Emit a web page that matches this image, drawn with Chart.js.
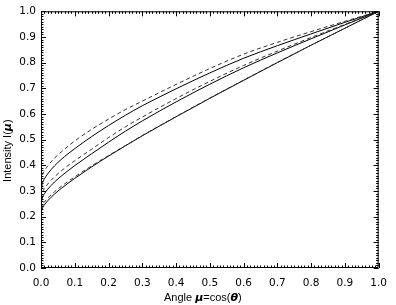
<!DOCTYPE html>
<html>
<head>
<meta charset="utf-8">
<script src="https://cdn.jsdelivr.net/npm/chart.js@4"></script>
<style>
  html, body { margin: 0; padding: 0; background: #fff; }
  #wrap { width: 396px; height: 305px; }
</style>
</head>
<body>
<div id="wrap"><canvas id="ldChart" width="396" height="305"></canvas></div>
<script>
// angle mu = cos(theta), sampled along the x axis
const mu = [0, 0.005, 0.01, 0.02, 0.04, 0.06, 0.08, 0.1, 0.15, 0.2, 0.25, 0.3, 0.4, 0.5, 0.6, 0.7, 0.8, 0.9, 1.0];

// intensity curves (top to bottom)
const dashTop   = [0.335, 0.365, 0.378, 0.398, 0.428, 0.452, 0.474, 0.495, 0.540, 0.580, 0.617, 0.650, 0.715, 0.777, 0.833, 0.879, 0.921, 0.961, 1.0];
const solidTop  = [0.300, 0.333, 0.347, 0.367, 0.398, 0.423, 0.445, 0.465, 0.512, 0.555, 0.595, 0.632, 0.698, 0.760, 0.817, 0.866, 0.912, 0.957, 1.0];
const dashMid   = [0.270, 0.297, 0.309, 0.327, 0.355, 0.378, 0.399, 0.418, 0.463, 0.508, 0.550, 0.588, 0.660, 0.727, 0.789, 0.845, 0.898, 0.949, 1.0];
const solidMid  = [0.250, 0.277, 0.289, 0.307, 0.335, 0.358, 0.379, 0.399, 0.445, 0.490, 0.533, 0.573, 0.647, 0.716, 0.780, 0.838, 0.893, 0.947, 1.0];
const dashLow   = [0.228, 0.248, 0.257, 0.272, 0.297, 0.318, 0.337, 0.355, 0.398, 0.438, 0.477, 0.516, 0.590, 0.662, 0.732, 0.801, 0.868, 0.934, 1.0];
const solidLow  = [0.215, 0.236, 0.246, 0.262, 0.288, 0.310, 0.330, 0.349, 0.394, 0.436, 0.476, 0.515, 0.589, 0.661, 0.731, 0.800, 0.868, 0.934, 1.0];

// axis titles, split where the greek symbols switch to bold
const xTitle = [['Angle ', 0], ['μ', 1], ['=cos(', 0], ['θ', 1], [')', 0]];
const yTitle = [['Intensity I(', 0], ['μ', 1], [')', 0]];

const axisMin = 0;
const axisMax = 1;
const majorStep = 0.1;
const minorPerMajor = 10;

const pts = arr => arr.map((v, i) => ({ x: mu[i], y: v }));

function series(data, dashed) {
  return {
    data: pts(data),
    borderColor: dashed ? '#333' : '#000',
    borderWidth: 1,
    borderDash: dashed ? [4, 3] : [],
    pointRadius: 0,
    fill: false,
    cubicInterpolationMode: 'monotone'
  };
}

// IDL-style box with inward major/minor ticks on all four sides
const boxTicks = {
  id: 'boxTicks',
  afterDatasetsDraw(chart) {
    const { ctx, chartArea: a, scales: { x, y } } = chart;
    ctx.save();
    ctx.strokeStyle = '#000';
    ctx.lineWidth = 1;
    ctx.beginPath();
    ctx.rect(a.left + 0.5, a.top + 0.5, a.right - a.left - 1, a.bottom - a.top - 1);
    const n = Math.round((axisMax - axisMin) / majorStep) * minorPerMajor;
    for (let i = 0; i <= n; i++) {
      const v = axisMin + (axisMax - axisMin) * i / n;
      const len = i % minorPerMajor === 0 ? 5 : 2.5;
      const px = Math.round(x.getPixelForValue(v)) + 0.5;
      ctx.moveTo(px, a.bottom); ctx.lineTo(px, a.bottom - len);
      ctx.moveTo(px, a.top); ctx.lineTo(px, a.top + len);
      const py = Math.round(y.getPixelForValue(v)) + 0.5;
      ctx.moveTo(a.left, py); ctx.lineTo(a.left + len, py);
      ctx.moveTo(a.right, py); ctx.lineTo(a.right - len, py);
    }
    ctx.stroke();
    ctx.restore();
  }
};

// mixed-font axis titles (plain text with bold greek letters)
const plainFont = "11px 'Liberation Sans', Arial, sans-serif";
const greekFont = "italic bold 11px 'DejaVu Sans', sans-serif";

function drawParts(ctx, parts, cx, cy) {
  let w = 0;
  parts.forEach(([t, g]) => { ctx.font = g ? greekFont : plainFont; w += ctx.measureText(t).width; });
  let px = cx - w / 2;
  parts.forEach(([t, g]) => {
    ctx.font = g ? greekFont : plainFont;
    ctx.fillText(t, px, cy);
    px += ctx.measureText(t).width;
  });
}

const axisTitles = {
  id: 'axisTitles',
  afterDraw(chart) {
    const { ctx, chartArea: a } = chart;
    ctx.save();
    ctx.fillStyle = '#000';
    ctx.textAlign = 'left';
    ctx.textBaseline = 'middle';
    drawParts(ctx, xTitle, (a.left + a.right) / 2 - 7, 298);
    ctx.translate(8, (a.top + a.bottom) / 2 + 11);
    ctx.rotate(-Math.PI / 2);
    drawParts(ctx, yTitle, 0, 0);
    ctx.restore();
  }
};

const tickFont = { family: "'DejaVu Sans', sans-serif", size: 10.5 };

new Chart(document.getElementById('ldChart').getContext('2d'), {
  type: 'line',
  data: {
    datasets: [
      series(dashTop, true),
      series(solidTop, false),
      series(dashMid, true),
      series(solidMid, false),
      series(dashLow, true),
      series(solidLow, false)
    ]
  },
  options: {
    responsive: false,
    animation: false,
    layout: { padding: { top: 4, right: 9, left: 0, bottom: 0 } },
    plugins: { legend: { display: false }, tooltip: { enabled: false } },
    scales: {
      x: {
        type: 'linear',
        min: axisMin,
        max: axisMax,
        grid: { display: false, drawTicks: false },
        border: { display: false },
        ticks: {
          stepSize: majorStep,
          padding: 9,
          color: '#000',
          font: tickFont,
          maxRotation: 0,
          autoSkip: false,
          callback: v => v.toFixed(1)
        },
        afterFit: s => { s.height = 37; }
      },
      y: {
        type: 'linear',
        min: axisMin,
        max: axisMax,
        grid: { display: false, drawTicks: false },
        border: { display: false },
        ticks: {
          stepSize: majorStep,
          padding: 5,
          color: '#000',
          font: tickFont,
          autoSkip: false,
          callback: v => v.toFixed(1)
        },
        afterFit: s => { s.width = 41; }
      }
    }
  },
  plugins: [boxTicks, axisTitles]
});
</script>
</body>
</html>
